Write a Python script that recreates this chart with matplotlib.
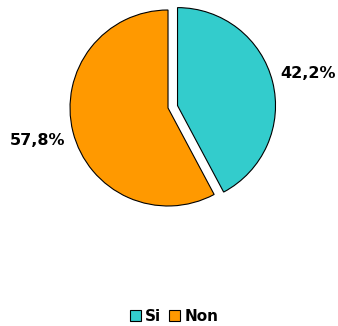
import matplotlib
matplotlib.use("Agg")
import matplotlib.pyplot as plt

labels = ["Si", "Non"]
values = [42.2, 57.8]
colors = ["#33CCCC", "#FF9900"]
explode = [0.1, 0]

fig = plt.figure(figsize=(3.38, 3.26), dpi=100)
ax = fig.add_axes([0.1346, 0.293, 0.725, 0.7515])

wedges, texts, autotexts = ax.pie(
    values, colors=colors, explode=explode, startangle=90, counterclock=False,
    autopct=lambda p: f"{p:.1f}%".replace(".", ","), pctdistance=1.37,
    wedgeprops=dict(edgecolor="black", linewidth=0.8),
    textprops=dict(fontsize=11.5, fontweight="bold", color="black"),
)
ax.set_xlim(-1.25, 1.25)
ax.set_ylim(-1.25, 1.25)
ax.set_aspect("equal")
ax.axis("off")

fig.legend(wedges, labels, loc="lower center", bbox_to_anchor=(0.515, -0.035),
           ncol=2, frameon=False, handlelength=0.7, handleheight=0.7,
           handletextpad=0.3, columnspacing=0.5,
           prop=dict(size=11, weight="bold"))

fig.savefig("out.png", dpi=100)
